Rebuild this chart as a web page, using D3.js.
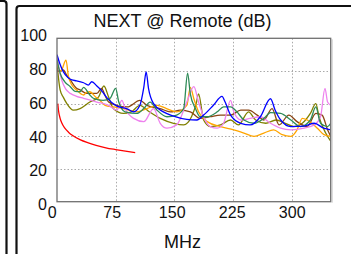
<!DOCTYPE html>
<html>
<head>
<meta charset="utf-8">
<script src="https://cdn.jsdelivr.net/npm/d3@7"></script>
<style>
  body { margin: 0; background: #fff; }
  svg { display: block; font-family: Arial, "Liberation Sans", sans-serif; }
</style>
</head>
<body>
<svg width="351" height="254"></svg>
<script>
// NEXT @ Remote chart data, [MHz, dB]
var xTicks = [0, 75, 150, 225, 300];
var yTicks = [0, 20, 40, 60, 80, 100];

var limitRed = [[1,60],[2,55.5],[4,51],[6,48.3],[10,45],[15,42.4],[20,40.5],[30,37.8],[40,36],[50,34.5],[62.5,33],[75,31.9],[87.5,30.9],[100,30]];

var pairBlue = [[0,90],[4,84],[8,79.6],[14,76],[19,74.5],[25,74],[34,72.8],[40,71.4],[44.5,73.4],[51,70.8],[57,68],[64,63.5],[76.5,58.5],[89,57],[98,55],[106,59],[111,70],[114,79.5],[117,69.4],[123.5,60],[136,55],[149,52.4],[166,50.4],[179,50],[187.5,53],[200,59],[211,64.5],[215,61],[222,53],[235,48],[247,47],[260,52],[273,63],[279,56],[286,50],[299,46],[316,46.3],[329,48],[341,45],[350,44]];

var pairGreen = [[0,87],[4,78.6],[10,73.4],[17,70.4],[23,67.5],[29.5,67.3],[34,70],[42,65.3],[46.5,63.3],[59,62],[68,63.3],[75,69.4],[79,61],[87,55],[102,54],[111,57],[119,61],[128,56],[140.6,52],[153,53],[162,57],[167,78.6],[170.5,66],[177,57],[183,52],[192,52],[205,55],[213,58],[222,58],[230,55],[239,50],[252,48],[264.5,51],[273,54.5],[286,54],[299,50],[311.5,46],[324,50],[331,58],[337,48],[346,46],[350,48]];

var pairOrange = [[0,84],[5,80],[11.5,86.7],[14.5,77],[19,71.4],[25,68.4],[34,65.3],[38,67],[42,67.3],[49,64.3],[55,62],[61.5,59],[72,58],[85,57],[102,55],[115,57],[128,59],[140,57],[153,55],[166,59],[170.5,70],[175,63],[181,55],[192,49],[209,46],[226,44],[239,42],[252,40],[264.5,42],[277,44],[288,41],[299,40],[307,44],[313.7,51],[320,50],[333,45],[341.5,41],[350,40]];

var pairViolet = [[0,90],[3,80],[6,74.5],[11,69],[17,66.3],[25,64.5],[34,63.3],[51,61],[66,59],[76.5,56],[83,62],[87,57],[98,51],[111,49],[123.5,57],[132,48],[140.6,45],[153,47],[166,61],[175,70.4],[181,61],[187.5,52],[196,46],[205,45],[213,48],[222,62],[226,55],[235,50],[247,51],[260,52],[273,48],[286,45],[299,44],[316,45],[329,47],[337,52],[342.7,69.4],[346,61],[350,59]];

var pairOlive = [[0,84.7],[4,68.4],[8,64],[12.4,60.2],[21,56],[29.5,57],[42,61],[53,64],[60,70.8],[66,64],[72,57],[85,54],[95,55],[106,59],[118,55],[132,51],[149,48],[162,47],[172,52],[178,60],[181,66],[187.5,50],[196,46],[209,47],[222,50],[232,47],[245,55],[254,50],[267,48],[280,50],[292,48],[303,46],[313.7,48],[324,54],[331,60],[335,52],[343.6,42],[350,37]];

var pairBrown = [[0,80],[4,80],[8,80.6],[12.4,77.5],[17,74.5],[25,69.4],[29.5,68.4],[38,66.3],[51,66.3],[57,69.4],[61.5,65],[66,61],[76.5,59],[90,58],[106,62],[115,59],[132,57],[145,55],[157.7,56],[170.5,55],[183,51],[196,52],[209,53],[222,53],[235,56],[245,56],[256,53],[264.5,50],[275,57],[284,47],[296.5,53],[307,49],[320,46],[331,54],[339,53],[346,44],[350,40]];

var series = [
  {values: pairOlive,  color: "#808000"},
  {values: pairBrown,  color: "#8b4513"},
  {values: pairOrange, color: "#ffa500"},
  {values: pairViolet, color: "#ee82ee"},
  {values: pairGreen,  color: "#2e8b57"},
  {values: pairBlue,   color: "#0000ff"},
  {values: limitRed,   color: "#ff0000"}
];

var svg = d3.select("svg");

var x = d3.scaleLinear().domain([0, 350]).range([57, 330.7]),
    y = d3.scaleLinear().domain([0, 100]).range([201.7, 38.3]);
// tick labels sit on a slightly wider spread than the grid
var xl = d3.scaleLinear().domain([0, 350]).range([51.7, 331.7]),
    yl = d3.scaleLinear().domain([0, 100]).range([204.5, 35.7]);

// panel frames
svg.append("rect").attr("x", -400).attr("y", 1).attr("width", 406.5).attr("height", 400)
  .attr("rx", 3).attr("fill", "none").attr("stroke", "#111").attr("stroke-width", 2.2);
svg.append("rect").attr("x", 16.5).attr("y", 6).attr("width", 400).attr("height", 400)
  .attr("rx", 3).attr("fill", "none").attr("stroke", "#111").attr("stroke-width", 2.2);

// grid
var grid = svg.append("g").attr("stroke", "#aaa").attr("stroke-dasharray", "1.5,2");
grid.selectAll("line.v").data(xTicks.slice(1)).enter().append("line")
  .attr("x1", function(d) { return Math.round(x(d)) + 0.5; })
  .attr("x2", function(d) { return Math.round(x(d)) + 0.5; })
  .attr("y1", y(100)).attr("y2", y(0));
grid.selectAll("line.h").data(yTicks.slice(1, -1)).enter().append("line")
  .attr("y1", function(d) { return Math.round(y(d)) + 0.5; })
  .attr("y2", function(d) { return Math.round(y(d)) + 0.5; })
  .attr("x1", x(0)).attr("x2", x(350));

svg.append("clipPath").attr("id", "plotclip").append("rect")
  .attr("x", x(0)).attr("y", y(100)).attr("width", x(350) - x(0)).attr("height", y(0) - y(100));

var line = d3.line()
  .x(function(d) { return x(d[0]); })
  .y(function(d) { return y(d[1]); })
  .curve(d3.curveMonotoneX);

svg.append("g").attr("clip-path", "url(#plotclip)")
  .selectAll("path").data(series).enter().append("path")
  .attr("d", function(d) { return line(d.values); })
  .attr("fill", "none")
  .attr("stroke", function(d) { return d.color; })
  .attr("stroke-width", 1.3);

// plot border with light shadow on right
svg.append("line").attr("x1", x(350) + 1.5).attr("x2", x(350) + 1.5)
  .attr("y1", y(100) + 1).attr("y2", y(0) + 1).attr("stroke", "#ccc").attr("stroke-width", 1);
svg.append("rect").attr("x", x(0)).attr("y", y(100))
  .attr("width", x(350) - x(0)).attr("height", y(0) - y(100))
  .attr("fill", "none").attr("stroke", "#707070").attr("stroke-width", 1.3);

// axes labels (no domain / tick marks)
var xAxis = svg.append("g").attr("transform", "translate(0,207)")
  .call(d3.axisBottom(xl).tickValues(xTicks).tickSize(0).tickPadding(0));
var yAxis = svg.append("g").attr("transform", "translate(47,0)")
  .call(d3.axisLeft(yl).tickValues(yTicks).tickSize(0).tickPadding(0));
[xAxis, yAxis].forEach(function(a) {
  a.select(".domain").remove();
  a.selectAll("text").attr("font-size", 16).attr("font-family", "Arial, 'Liberation Sans', sans-serif").attr("fill", "#111");
});
xAxis.selectAll("text").attr("dy", "0.71em");

svg.append("text").attr("x", 182.5).attr("y", 26.5).attr("text-anchor", "middle")
  .attr("font-size", 18).attr("fill", "#111").text("NEXT @ Remote (dB)");
svg.append("text").attr("x", 182.5).attr("y", 248).attr("text-anchor", "middle")
  .attr("font-size", 18).attr("fill", "#111").text("MHz");
</script>
</body>
</html>
